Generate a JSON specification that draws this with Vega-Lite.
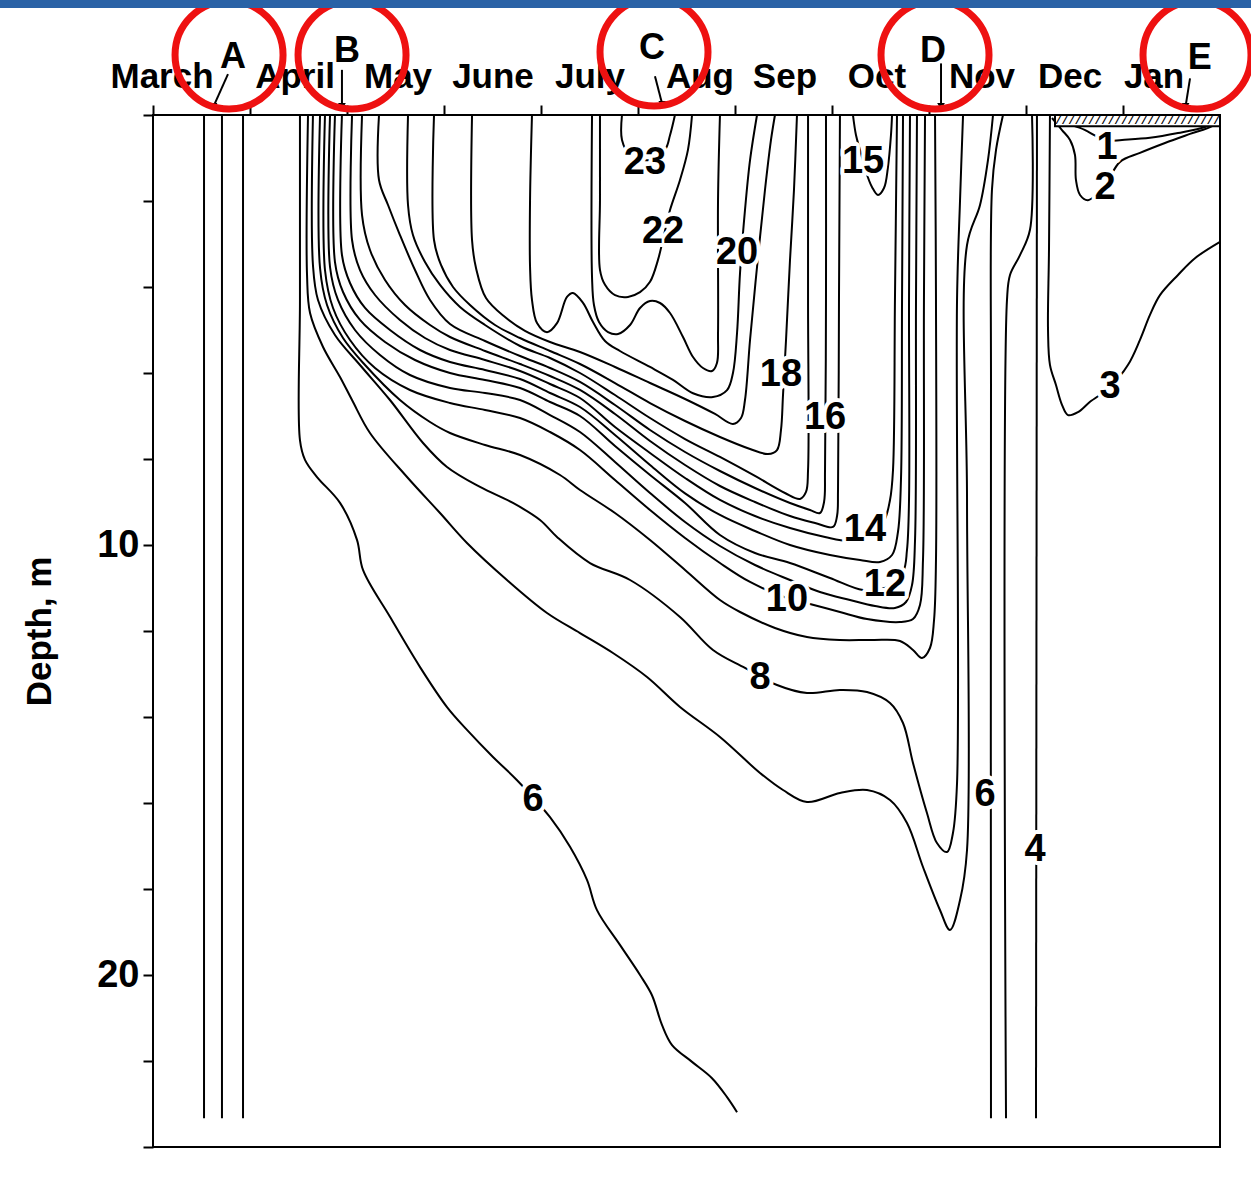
{
  "$schema": "https://vega.github.io/schema/vega-lite/v6.json",
  "width": 1067,
  "height": 1032,
  "autosize": {"type": "none"},
  "padding": {"left": 153, "top": 115, "right": 31, "bottom": 37},
  "background": "white",
  "config": {
    "view": {"stroke": "#000", "strokeWidth": 2},
    "font": "Liberation Sans"
  },
  "datasets": {
    "iso": [
      {"c":"3a","i":0,"m":0.526,"d":0},{"c":"3a","i":1,"m":0.526,"d":23.33},
      {"c":"4a","i":0,"m":0.711,"d":0},{"c":"4a","i":1,"m":0.711,"d":23.33},
      {"c":"5a","i":0,"m":0.928,"d":0},{"c":"5a","i":1,"m":0.928,"d":23.33},

      {"c":"6a","i":0,"m":1.515,"d":0},{"c":"6a","i":1,"m":1.515,"d":4.30},{"c":"6a","i":2,"m":1.515,"d":7.56},{"c":"6a","i":3,"m":1.567,"d":8.02},{"c":"6a","i":4,"m":1.691,"d":8.42},{"c":"6a","i":5,"m":1.928,"d":9.02},{"c":"6a","i":6,"m":2.103,"d":9.88},{"c":"6a","i":7,"m":2.165,"d":10.58},{"c":"6a","i":8,"m":2.443,"d":11.67},{"c":"6a","i":9,"m":2.753,"d":12.84},{"c":"6a","i":10,"m":3.031,"d":13.77},{"c":"6a","i":11,"m":3.237,"d":14.30},{"c":"6a","i":12,"m":3.505,"d":14.93},{"c":"6a","i":13,"m":3.753,"d":15.47},{"c":"6a","i":14,"m":4.093,"d":16.33},{"c":"6a","i":15,"m":4.299,"d":17.02},{"c":"6a","i":16,"m":4.474,"d":17.79},{"c":"6a","i":17,"m":4.577,"d":18.49},{"c":"6a","i":18,"m":4.814,"d":19.30},{"c":"6a","i":19,"m":5.021,"d":20.00},{"c":"6a","i":20,"m":5.144,"d":20.47},{"c":"6a","i":21,"m":5.247,"d":21.16},{"c":"6a","i":22,"m":5.351,"d":21.63},{"c":"6a","i":23,"m":5.557,"d":22.02},{"c":"6a","i":24,"m":5.763,"d":22.40},{"c":"6a","i":25,"m":5.918,"d":22.84},{"c":"6a","i":26,"m":6.021,"d":23.19},

      {"c":"7","i":0,"m":1.598,"d":0},{"c":"7","i":1,"m":1.588,"d":3.721},{"c":"7","i":2,"m":1.619,"d":4.605},{"c":"7","i":3,"m":1.753,"d":5.395},{"c":"7","i":4,"m":1.928,"d":6.093},{"c":"7","i":5,"m":2.052,"d":6.628},{"c":"7","i":6,"m":2.237,"d":7.395},{"c":"7","i":7,"m":2.619,"d":8.419},{"c":"7","i":8,"m":2.959,"d":9.256},{"c":"7","i":9,"m":3.237,"d":9.953},{"c":"7","i":10,"m":3.649,"d":10.814},{"c":"7","i":11,"m":4.062,"d":11.581},{"c":"7","i":12,"m":4.402,"d":12.047},{"c":"7","i":13,"m":4.742,"d":12.512},{"c":"7","i":14,"m":5.093,"d":13.070},{"c":"7","i":15,"m":5.433,"d":13.767},{"c":"7","i":16,"m":5.845,"d":14.465},{"c":"7","i":17,"m":6.258,"d":15.302},{"c":"7","i":18,"m":6.495,"d":15.698},{"c":"7","i":19,"m":6.742,"d":15.977},{"c":"7","i":20,"m":7.082,"d":15.767},{"c":"7","i":21,"m":7.361,"d":15.698},{"c":"7","i":22,"m":7.598,"d":15.930},{"c":"7","i":23,"m":7.773,"d":16.465},{"c":"7","i":24,"m":7.938,"d":17.488},{"c":"7","i":25,"m":8.113,"d":18.488},{"c":"7","i":26,"m":8.216,"d":18.953},{"c":"7","i":27,"m":8.320,"d":18.256},{"c":"7","i":28,"m":8.392,"d":17.093},{"c":"7","i":29,"m":8.392,"d":8.953},{"c":"7","i":30,"m":8.392,"d":3.023},{"c":"7","i":31,"m":8.526,"d":2.093},{"c":"7","i":32,"m":8.608,"d":1.047},{"c":"7","i":33,"m":8.660,"d":0},

      {"c":"8","i":0,"m":1.649,"d":0},{"c":"8","i":1,"m":1.649,"d":3.488},{"c":"8","i":2,"m":1.701,"d":4.302},{"c":"8","i":3,"m":1.876,"d":5.116},{"c":"8","i":4,"m":2.134,"d":5.814},{"c":"8","i":5,"m":2.443,"d":6.628},{"c":"8","i":6,"m":2.784,"d":7.628},{"c":"8","i":7,"m":3.031,"d":8.186},{"c":"8","i":8,"m":3.371,"d":8.651},{"c":"8","i":9,"m":3.711,"d":9.023},{"c":"8","i":10,"m":3.990,"d":9.419},{"c":"8","i":11,"m":4.165,"d":9.814},{"c":"8","i":12,"m":4.505,"d":10.419},{"c":"8","i":13,"m":4.918,"d":10.814},{"c":"8","i":14,"m":5.433,"d":11.674},{"c":"8","i":15,"m":5.773,"d":12.442},{"c":"8","i":16,"m":6.103,"d":12.860},{"c":"8","i":17,"m":6.433,"d":13.256},{"c":"8","i":18,"m":6.742,"d":13.442},{"c":"8","i":19,"m":7.082,"d":13.372},{"c":"8","i":20,"m":7.361,"d":13.419},{"c":"8","i":21,"m":7.598,"d":13.674},{"c":"8","i":22,"m":7.732,"d":14.140},{"c":"8","i":23,"m":7.835,"d":15.070},{"c":"8","i":24,"m":7.979,"d":16.233},{"c":"8","i":25,"m":8.082,"d":16.930},{"c":"8","i":26,"m":8.186,"d":17.140},{"c":"8","i":27,"m":8.247,"d":16.698},{"c":"8","i":28,"m":8.289,"d":15.535},{"c":"8","i":29,"m":8.289,"d":4.302},{"c":"8","i":30,"m":8.320,"d":1.977},{"c":"8","i":31,"m":8.351,"d":0},

      {"c":"9","i":0,"m":1.722,"d":0},{"c":"9","i":1,"m":1.722,"d":3.558},{"c":"9","i":2,"m":1.794,"d":4.419},{"c":"9","i":3,"m":1.959,"d":5.186},{"c":"9","i":4,"m":2.186,"d":5.814},{"c":"9","i":5,"m":2.546,"d":6.628},{"c":"9","i":6,"m":2.856,"d":7.140},{"c":"9","i":7,"m":3.062,"d":7.395},{"c":"9","i":8,"m":3.423,"d":7.674},{"c":"9","i":9,"m":3.784,"d":7.907},{"c":"9","i":10,"m":4.196,"d":8.372},{"c":"9","i":11,"m":4.402,"d":8.721},{"c":"9","i":12,"m":4.763,"d":9.256},{"c":"9","i":13,"m":5.124,"d":9.884},{"c":"9","i":14,"m":5.485,"d":10.581},{"c":"9","i":15,"m":5.845,"d":11.279},{"c":"9","i":16,"m":6.052,"d":11.558},{"c":"9","i":17,"m":6.412,"d":11.930},{"c":"9","i":18,"m":6.742,"d":12.140},{"c":"9","i":19,"m":7.082,"d":12.209},{"c":"9","i":20,"m":7.423,"d":12.209},{"c":"9","i":21,"m":7.701,"d":12.233},{"c":"9","i":22,"m":7.835,"d":12.442},{"c":"9","i":23,"m":7.928,"d":12.628},{"c":"9","i":24,"m":8.010,"d":12.395},{"c":"9","i":25,"m":8.052,"d":11.744},{"c":"9","i":26,"m":8.072,"d":10.349},{"c":"9","i":27,"m":8.072,"d":4.302},{"c":"9","i":28,"m":8.062,"d":0},

      {"c":"10","i":0,"m":1.773,"d":0},{"c":"10","i":1,"m":1.773,"d":3.605},{"c":"10","i":2,"m":1.856,"d":4.488},{"c":"10","i":3,"m":2.031,"d":5.233},{"c":"10","i":4,"m":2.289,"d":5.884},{"c":"10","i":5,"m":2.649,"d":6.395},{"c":"10","i":6,"m":3.062,"d":6.698},{"c":"10","i":7,"m":3.423,"d":6.860},{"c":"10","i":8,"m":3.784,"d":7.047},{"c":"10","i":9,"m":4.093,"d":7.372},{"c":"10","i":10,"m":4.402,"d":7.791},{"c":"10","i":11,"m":4.763,"d":8.488},{"c":"10","i":12,"m":5.124,"d":9.186},{"c":"10","i":13,"m":5.485,"d":9.837},{"c":"10","i":14,"m":5.845,"d":10.419},{"c":"10","i":15,"m":6.155,"d":10.860},{"c":"10","i":16,"m":6.536,"d":11.233},{"c":"10","i":17,"m":6.773,"d":11.372},{"c":"10","i":18,"m":7.082,"d":11.558},{"c":"10","i":19,"m":7.361,"d":11.721},{"c":"10","i":20,"m":7.701,"d":11.791},{"c":"10","i":21,"m":7.835,"d":11.721},{"c":"10","i":22,"m":7.907,"d":11.395},{"c":"10","i":23,"m":7.938,"d":10.349},{"c":"10","i":24,"m":7.948,"d":4.302},{"c":"10","i":25,"m":7.959,"d":0},

      {"c":"11","i":0,"m":1.825,"d":0},{"c":"11","i":1,"m":1.825,"d":3.535},{"c":"11","i":2,"m":1.907,"d":4.302},{"c":"11","i":3,"m":2.082,"d":5.0},{"c":"11","i":4,"m":2.340,"d":5.581},{"c":"11","i":5,"m":2.649,"d":6.047},{"c":"11","i":6,"m":3.062,"d":6.349},{"c":"11","i":7,"m":3.423,"d":6.465},{"c":"11","i":8,"m":3.784,"d":6.628},{"c":"11","i":9,"m":4.093,"d":6.977},{"c":"11","i":10,"m":4.402,"d":7.372},{"c":"11","i":11,"m":4.763,"d":8.070},{"c":"11","i":12,"m":5.124,"d":8.791},{"c":"11","i":13,"m":5.485,"d":9.465},{"c":"11","i":14,"m":5.845,"d":10.023},{"c":"11","i":15,"m":6.206,"d":10.465},{"c":"11","i":16,"m":6.567,"d":10.814},{"c":"11","i":17,"m":6.876,"d":11.093},{"c":"11","i":18,"m":7.186,"d":11.279},{"c":"11","i":19,"m":7.443,"d":11.419},{"c":"11","i":20,"m":7.649,"d":11.465},{"c":"11","i":21,"m":7.763,"d":11.326},{"c":"11","i":22,"m":7.825,"d":10.930},{"c":"11","i":23,"m":7.856,"d":9.884},{"c":"11","i":24,"m":7.866,"d":4.302},{"c":"11","i":25,"m":7.876,"d":0},

      {"c":"12","i":0,"m":1.876,"d":0},{"c":"12","i":1,"m":1.876,"d":3.419},{"c":"12","i":2,"m":1.959,"d":4.116},{"c":"12","i":3,"m":2.134,"d":4.767},{"c":"12","i":4,"m":2.392,"d":5.279},{"c":"12","i":5,"m":2.701,"d":5.698},{"c":"12","i":6,"m":3.062,"d":6.0},{"c":"12","i":7,"m":3.423,"d":6.163},{"c":"12","i":8,"m":3.784,"d":6.349},{"c":"12","i":9,"m":4.093,"d":6.674},{"c":"12","i":10,"m":4.402,"d":7.0},{"c":"12","i":11,"m":4.763,"d":7.698},{"c":"12","i":12,"m":5.124,"d":8.372},{"c":"12","i":13,"m":5.485,"d":9.023},{"c":"12","i":14,"m":5.845,"d":9.767},{"c":"12","i":15,"m":6.206,"d":10.186},{"c":"12","i":16,"m":6.567,"d":10.419},{"c":"12","i":17,"m":6.979,"d":10.767},{"c":"12","i":18,"m":7.320,"d":11.047},{"c":"12","i":19,"m":7.546,"d":11.0},{"c":"12","i":20,"m":7.732,"d":10.628},{"c":"12","i":21,"m":7.773,"d":10.116},{"c":"12","i":22,"m":7.794,"d":8.953},{"c":"12","i":23,"m":7.794,"d":4.302},{"c":"12","i":24,"m":7.804,"d":0},

      {"c":"13","i":0,"m":1.948,"d":0},{"c":"13","i":1,"m":1.948,"d":3.256},{"c":"13","i":2,"m":2.031,"d":3.907},{"c":"13","i":3,"m":2.186,"d":4.488},{"c":"13","i":4,"m":2.443,"d":5.0},{"c":"13","i":5,"m":2.753,"d":5.465},{"c":"13","i":6,"m":3.062,"d":5.744},{"c":"13","i":7,"m":3.423,"d":5.930},{"c":"13","i":8,"m":3.784,"d":6.140},{"c":"13","i":9,"m":4.093,"d":6.465},{"c":"13","i":10,"m":4.402,"d":6.791},{"c":"13","i":11,"m":4.763,"d":7.442},{"c":"13","i":12,"m":5.124,"d":8.140},{"c":"13","i":13,"m":5.485,"d":8.80},{"c":"13","i":14,"m":5.845,"d":9.302},{"c":"13","i":15,"m":6.206,"d":9.674},{"c":"13","i":16,"m":6.567,"d":10.0},{"c":"13","i":17,"m":6.979,"d":10.233},{"c":"13","i":18,"m":7.289,"d":10.349},{"c":"13","i":19,"m":7.495,"d":10.395},{"c":"13","i":20,"m":7.619,"d":10.233},{"c":"13","i":21,"m":7.680,"d":9.698},{"c":"13","i":22,"m":7.711,"d":8.488},{"c":"13","i":23,"m":7.722,"d":4.302},{"c":"13","i":24,"m":7.732,"d":0},

      {"c":"14","i":0,"m":2.052,"d":0},{"c":"14","i":1,"m":2.052,"d":2.907},{"c":"14","i":2,"m":2.134,"d":3.605},{"c":"14","i":3,"m":2.289,"d":4.186},{"c":"14","i":4,"m":2.546,"d":4.767},{"c":"14","i":5,"m":2.804,"d":5.186},{"c":"14","i":6,"m":3.062,"d":5.465},{"c":"14","i":7,"m":3.423,"d":5.698},{"c":"14","i":8,"m":3.784,"d":5.953},{"c":"14","i":9,"m":4.093,"d":6.256},{"c":"14","i":10,"m":4.402,"d":6.581},{"c":"14","i":11,"m":4.763,"d":7.256},{"c":"14","i":12,"m":5.124,"d":7.860},{"c":"14","i":13,"m":5.485,"d":8.442},{"c":"14","i":14,"m":5.845,"d":8.953},{"c":"14","i":15,"m":6.206,"d":9.326},{"c":"14","i":16,"m":6.567,"d":9.605},{"c":"14","i":17,"m":6.928,"d":9.814},{"c":"14","i":18,"m":7.165,"d":9.907},{"c":"14","i":19,"m":7.340,"d":9.837},{"c":"14","i":20,"m":7.526,"d":9.488},{"c":"14","i":21,"m":7.598,"d":8.953},{"c":"14","i":22,"m":7.629,"d":8.256},{"c":"14","i":23,"m":7.649,"d":4.302},{"c":"14","i":24,"m":7.670,"d":0},

      {"c":"15","i":0,"m":2.155,"d":0},{"c":"15","i":1,"m":2.155,"d":2.326},{"c":"15","i":2,"m":2.237,"d":3.140},{"c":"15","i":3,"m":2.392,"d":3.837},{"c":"15","i":4,"m":2.598,"d":4.419},{"c":"15","i":5,"m":2.856,"d":4.884},{"c":"15","i":6,"m":3.062,"d":5.163},{"c":"15","i":7,"m":3.423,"d":5.488},{"c":"15","i":8,"m":3.784,"d":5.791},{"c":"15","i":9,"m":4.093,"d":6.070},{"c":"15","i":10,"m":4.402,"d":6.395},{"c":"15","i":11,"m":4.763,"d":6.953},{"c":"15","i":12,"m":5.124,"d":7.581},{"c":"15","i":13,"m":5.485,"d":8.140},{"c":"15","i":14,"m":5.845,"d":8.628},{"c":"15","i":15,"m":6.206,"d":9.0},{"c":"15","i":16,"m":6.567,"d":9.326},{"c":"15","i":17,"m":6.825,"d":9.488},{"c":"15","i":18,"m":7.010,"d":9.581},{"c":"15","i":19,"m":7.052,"d":9.326},{"c":"15","i":20,"m":7.062,"d":8.721},{"c":"15","i":21,"m":7.072,"d":4.302},{"c":"15","i":22,"m":7.082,"d":0},

      {"c":"15p","i":0,"m":7.216,"d":0},{"c":"15p","i":1,"m":7.247,"d":0.465},{"c":"15p","i":2,"m":7.289,"d":0.814},{"c":"15p","i":3,"m":7.351,"d":1.326},{"c":"15p","i":4,"m":7.412,"d":1.674},{"c":"15p","i":5,"m":7.474,"d":1.860},{"c":"15p","i":6,"m":7.536,"d":1.698},{"c":"15p","i":7,"m":7.577,"d":1.209},{"c":"15p","i":8,"m":7.608,"d":0.465},{"c":"15p","i":9,"m":7.619,"d":0},

      {"c":"16","i":0,"m":2.330,"d":0},{"c":"16","i":1,"m":2.330,"d":1.512},{"c":"16","i":2,"m":2.423,"d":2.093},{"c":"16","i":3,"m":2.546,"d":2.791},{"c":"16","i":4,"m":2.701,"d":3.605},{"c":"16","i":5,"m":2.856,"d":4.302},{"c":"16","i":6,"m":3.062,"d":4.860},{"c":"16","i":7,"m":3.423,"d":5.256},{"c":"16","i":8,"m":3.784,"d":5.605},{"c":"16","i":9,"m":4.093,"d":5.884},{"c":"16","i":10,"m":4.402,"d":6.209},{"c":"16","i":11,"m":4.763,"d":6.744},{"c":"16","i":12,"m":5.124,"d":7.326},{"c":"16","i":13,"m":5.485,"d":7.837},{"c":"16","i":14,"m":5.845,"d":8.279},{"c":"16","i":15,"m":6.206,"d":8.674},{"c":"16","i":16,"m":6.567,"d":9.023},{"c":"16","i":17,"m":6.773,"d":9.186},{"c":"16","i":18,"m":6.876,"d":9.256},{"c":"16","i":19,"m":6.918,"d":9.0},{"c":"16","i":20,"m":6.928,"d":8.256},{"c":"16","i":21,"m":6.938,"d":4.302},{"c":"16","i":22,"m":6.938,"d":0},

      {"c":"17","i":0,"m":2.629,"d":0},{"c":"17","i":1,"m":2.629,"d":2.093},{"c":"17","i":2,"m":2.680,"d":2.791},{"c":"17","i":3,"m":2.804,"d":3.419},{"c":"17","i":4,"m":2.959,"d":3.953},{"c":"17","i":5,"m":3.165,"d":4.465},{"c":"17","i":6,"m":3.423,"d":4.884},{"c":"17","i":7,"m":3.784,"d":5.372},{"c":"17","i":8,"m":4.093,"d":5.651},{"c":"17","i":9,"m":4.402,"d":6.0},{"c":"17","i":10,"m":4.763,"d":6.512},{"c":"17","i":11,"m":5.124,"d":7.047},{"c":"17","i":12,"m":5.485,"d":7.535},{"c":"17","i":13,"m":5.845,"d":7.953},{"c":"17","i":14,"m":6.206,"d":8.395},{"c":"17","i":15,"m":6.515,"d":8.791},{"c":"17","i":16,"m":6.670,"d":8.930},{"c":"17","i":17,"m":6.732,"d":8.767},{"c":"17","i":18,"m":6.753,"d":8.256},{"c":"17","i":19,"m":6.753,"d":4.302},{"c":"17","i":20,"m":6.753,"d":0},

      {"c":"18","i":0,"m":2.897,"d":0},{"c":"18","i":1,"m":2.897,"d":2.907},{"c":"18","i":2,"m":2.969,"d":3.488},{"c":"18","i":3,"m":3.093,"d":4.0},{"c":"18","i":4,"m":3.268,"d":4.419},{"c":"18","i":5,"m":3.526,"d":4.884},{"c":"18","i":6,"m":3.784,"d":5.186},{"c":"18","i":7,"m":4.093,"d":5.488},{"c":"18","i":8,"m":4.402,"d":5.791},{"c":"18","i":9,"m":4.763,"d":6.233},{"c":"18","i":10,"m":5.124,"d":6.698},{"c":"18","i":11,"m":5.485,"d":7.116},{"c":"18","i":12,"m":5.845,"d":7.488},{"c":"18","i":13,"m":6.155,"d":7.767},{"c":"18","i":14,"m":6.340,"d":7.884},{"c":"18","i":15,"m":6.433,"d":7.791},{"c":"18","i":16,"m":6.474,"d":7.326},{"c":"18","i":17,"m":6.495,"d":6.512},{"c":"18","i":18,"m":6.526,"d":5.233},{"c":"18","i":19,"m":6.567,"d":3.372},{"c":"18","i":20,"m":6.608,"d":1.744},{"c":"18","i":21,"m":6.639,"d":0},

      {"c":"19","i":0,"m":3.289,"d":0},{"c":"19","i":1,"m":3.289,"d":2.907},{"c":"19","i":2,"m":3.330,"d":3.558},{"c":"19","i":3,"m":3.433,"d":4.256},{"c":"19","i":4,"m":3.629,"d":4.70},{"c":"19","i":5,"m":3.835,"d":5.02},{"c":"19","i":6,"m":4.093,"d":5.279},{"c":"19","i":7,"m":4.402,"d":5.512},{"c":"19","i":8,"m":4.763,"d":5.860},{"c":"19","i":9,"m":5.124,"d":6.233},{"c":"19","i":10,"m":5.485,"d":6.605},{"c":"19","i":11,"m":5.794,"d":6.953},{"c":"19","i":12,"m":5.979,"d":7.186},{"c":"19","i":13,"m":6.062,"d":7.047},{"c":"19","i":14,"m":6.103,"d":6.628},{"c":"19","i":15,"m":6.155,"d":5.233},{"c":"19","i":16,"m":6.227,"d":3.535},{"c":"19","i":17,"m":6.309,"d":1.744},{"c":"19","i":18,"m":6.371,"d":0.581},{"c":"19","i":19,"m":6.412,"d":0},

      {"c":"20","i":0,"m":3.907,"d":0},{"c":"20","i":1,"m":3.887,"d":1.98},{"c":"20","i":2,"m":3.887,"d":3.53},{"c":"20","i":3,"m":3.907,"d":4.30},{"c":"20","i":4,"m":3.959,"d":4.84},{"c":"20","i":5,"m":4.062,"d":5.05},{"c":"20","i":6,"m":4.165,"d":4.84},{"c":"20","i":7,"m":4.268,"d":4.23},{"c":"20","i":8,"m":4.330,"d":4.14},{"c":"20","i":9,"m":4.433,"d":4.37},{"c":"20","i":10,"m":4.536,"d":4.814},{"c":"20","i":11,"m":4.660,"d":5.256},{"c":"20","i":12,"m":4.814,"d":5.488},{"c":"20","i":13,"m":5.124,"d":5.86},{"c":"20","i":14,"m":5.361,"d":6.16},{"c":"20","i":15,"m":5.567,"d":6.47},{"c":"20","i":16,"m":5.773,"d":6.56},{"c":"20","i":17,"m":5.918,"d":6.40},{"c":"20","i":18,"m":5.979,"d":6.00},{"c":"20","i":19,"m":6.021,"d":5.07},{"c":"20","i":20,"m":6.052,"d":3.67},{"c":"20","i":21,"m":6.103,"d":2.21},{"c":"20","i":22,"m":6.155,"d":1.05},{"c":"20","i":23,"m":6.227,"d":0},

      {"c":"21","i":0,"m":4.526,"d":0},{"c":"21","i":1,"m":4.526,"d":3.767},{"c":"21","i":2,"m":4.546,"d":4.419},{"c":"21","i":3,"m":4.598,"d":4.814},{"c":"21","i":4,"m":4.691,"d":5.047},{"c":"21","i":5,"m":4.794,"d":5.093},{"c":"21","i":6,"m":4.918,"d":4.884},{"c":"21","i":7,"m":5.021,"d":4.488},{"c":"21","i":8,"m":5.124,"d":4.326},{"c":"21","i":9,"m":5.227,"d":4.372},{"c":"21","i":10,"m":5.330,"d":4.605},{"c":"21","i":11,"m":5.464,"d":5.163},{"c":"21","i":12,"m":5.567,"d":5.628},{"c":"21","i":13,"m":5.670,"d":5.884},{"c":"21","i":14,"m":5.763,"d":5.953},{"c":"21","i":15,"m":5.814,"d":5.767},{"c":"21","i":16,"m":5.825,"d":5.070},{"c":"21","i":17,"m":5.825,"d":1.977},{"c":"21","i":18,"m":5.845,"d":0},

      {"c":"22","i":0,"m":4.608,"d":0},{"c":"22","i":1,"m":4.608,"d":1.98},{"c":"22","i":2,"m":4.608,"d":3.60},{"c":"22","i":3,"m":4.660,"d":3.95},{"c":"22","i":4,"m":4.763,"d":4.19},{"c":"22","i":5,"m":4.897,"d":4.23},{"c":"22","i":6,"m":5.021,"d":4.12},{"c":"22","i":7,"m":5.124,"d":3.88},{"c":"22","i":8,"m":5.206,"d":3.37},{"c":"22","i":9,"m":5.268,"d":2.79},{"c":"22","i":10,"m":5.330,"d":2.21},{"c":"22","i":11,"m":5.433,"d":1.51},{"c":"22","i":12,"m":5.515,"d":0.81},{"c":"22","i":13,"m":5.557,"d":0},

      {"c":"23","i":0,"m":4.835,"d":0},{"c":"23","i":1,"m":4.835,"d":0.58},{"c":"23","i":2,"m":4.918,"d":0.93},{"c":"23","i":3,"m":5.103,"d":1.05},{"c":"23","i":4,"m":5.278,"d":0.81},{"c":"23","i":5,"m":5.330,"d":0.47},{"c":"23","i":6,"m":5.381,"d":0},

      {"c":"6b","i":0,"m":8.763,"d":0},{"c":"6b","i":1,"m":8.691,"d":0.81},{"c":"6b","i":2,"m":8.649,"d":1.74},{"c":"6b","i":3,"m":8.639,"d":6.63},{"c":"6b","i":4,"m":8.639,"d":23.33},

      {"c":"5b","i":0,"m":9.062,"d":0},{"c":"5b","i":1,"m":9.041,"d":2.67},{"c":"5b","i":2,"m":8.938,"d":3.26},{"c":"5b","i":3,"m":8.835,"d":3.72},{"c":"5b","i":4,"m":8.804,"d":4.30},{"c":"5b","i":5,"m":8.794,"d":23.33},

      {"c":"4b","i":0,"m":9.113,"d":0},{"c":"4b","i":1,"m":9.103,"d":23.33},

      {"c":"3b","i":0,"m":9.247,"d":0},{"c":"3b","i":1,"m":9.237,"d":3.14},{"c":"3b","i":2,"m":9.227,"d":5.0},{"c":"3b","i":3,"m":9.247,"d":5.81},{"c":"3b","i":4,"m":9.309,"d":6.28},{"c":"3b","i":5,"m":9.371,"d":6.74},{"c":"3b","i":6,"m":9.433,"d":6.98},{"c":"3b","i":7,"m":9.536,"d":6.91},{"c":"3b","i":8,"m":9.660,"d":6.67},{"c":"3b","i":9,"m":9.866,"d":6.33},{"c":"3b","i":10,"m":10.052,"d":5.81},{"c":"3b","i":11,"m":10.175,"d":5.23},{"c":"3b","i":12,"m":10.278,"d":4.65},{"c":"3b","i":13,"m":10.381,"d":4.19},{"c":"3b","i":14,"m":10.567,"d":3.72},{"c":"3b","i":15,"m":10.742,"d":3.33},{"c":"3b","i":16,"m":11.0,"d":2.95},

      {"c":"2","i":0,"m":9.268,"d":0.07},{"c":"2","i":1,"m":9.371,"d":0.35},{"c":"2","i":2,"m":9.454,"d":0.58},{"c":"2","i":3,"m":9.505,"d":0.93},{"c":"2","i":4,"m":9.515,"d":1.51},{"c":"2","i":5,"m":9.557,"d":1.86},{"c":"2","i":6,"m":9.639,"d":1.98},{"c":"2","i":7,"m":9.814,"d":1.63},{"c":"2","i":8,"m":9.969,"d":1.09},{"c":"2","i":9,"m":10.175,"d":0.88},{"c":"2","i":10,"m":10.433,"d":0.65},{"c":"2","i":11,"m":10.691,"d":0.44},{"c":"2","i":12,"m":10.918,"d":0.26},{"c":"2","i":13,"m":10.979,"d":0.12},

      {"c":"1","i":0,"m":9.33,"d":0.16},{"c":"1","i":1,"m":9.557,"d":0.30},{"c":"1","i":2,"m":9.742,"d":0.51},{"c":"1","i":3,"m":9.845,"d":0.60},{"c":"1","i":4,"m":9.99,"d":0.58},{"c":"1","i":5,"m":10.278,"d":0.53},{"c":"1","i":6,"m":10.567,"d":0.42},{"c":"1","i":7,"m":10.845,"d":0.28},{"c":"1","i":8,"m":10.948,"d":0.16}
    ],
    "isoLabels": [
      {"t":"23","m":5.072,"d":1.116},
      {"t":"22","m":5.258,"d":2.721},
      {"t":"20","m":6.021,"d":3.209},
      {"t":"18","m":6.474,"d":6.047},
      {"t":"16","m":6.928,"d":7.047},
      {"t":"15","m":7.320,"d":1.093},
      {"t":"14","m":7.340,"d":9.651},
      {"t":"12","m":7.546,"d":10.930},
      {"t":"10","m":6.536,"d":11.279},
      {"t":"8","m":6.258,"d":13.093},
      {"t":"6","m":3.918,"d":15.930},
      {"t":"6","m":8.577,"d":15.814},
      {"t":"4","m":9.093,"d":17.093},
      {"t":"3","m":9.866,"d":6.326},
      {"t":"2","m":9.814,"d":1.70},
      {"t":"1","m":9.835,"d":0.76}
    ],
    "months": [
      {"t":"March","m":0.093},{"t":"April","m":1.464},{"t":"May","m":2.526},{"t":"June","m":3.505},
      {"t":"July","m":4.505},{"t":"Aug","m":5.639},{"t":"Sep","m":6.515},{"t":"Oct","m":7.464},
      {"t":"Nov","m":8.546},{"t":"Dec","m":9.454},{"t":"Jan","m":10.320}
    ],
    "events": [
      {"t":"A","m":0.825,"d":-1.1,"cm":0.784,"cd":-1.395,"am":0.773,"ad":-0.95,"am2":0.624,"ad2":-0.2},
      {"t":"B","m":2.0,"d":-1.23,"cm":2.052,"cd":-1.395,"am":1.948,"ad":-1.05,"am2":1.948,"ad2":-0.2},
      {"t":"C","m":5.144,"d":-1.3,"cm":5.165,"cd":-1.465,"am":5.175,"ad":-0.9,"am2":5.25,"ad2":-0.25},
      {"t":"D","m":8.041,"d":-1.23,"cm":8.062,"cd":-1.395,"am":8.124,"ad":-1.2,"am2":8.124,"ad2":-0.2},
      {"t":"E","m":10.79,"d":-1.07,"cm":10.763,"cd":-1.395,"am":10.691,"ad":-0.85,"am2":10.645,"ad2":-0.2}
    ],
    "ice": [{"m":9.299,"m2":11.0,"d":0,"d2":0.26,"t":"/////////////////////////","mc":10.149,"dc":0.13}],
    "band": [{"m":-1.7,"m2":11.5,"d":-2.8,"d2":-2.49}]
  },
  "layer": [
    {
      "data": {"name": "iso"},
      "mark": {"type": "line", "color": "#000", "strokeWidth": 2, "interpolate": "catmull-rom"},
      "encoding": {
        "x": {
          "field": "m", "type": "quantitative",
          "scale": {"domain": [0, 11], "nice": false, "zero": false},
          "axis": {"orient": "top", "values": [0,1,2,3,4,5,6,7,8,9,10], "labels": false, "domain": false, "grid": false,
                   "ticks": true, "tickSize": 10, "tickWidth": 2, "tickColor": "#000", "title": null}
        },
        "y": {
          "field": "d", "type": "quantitative",
          "scale": {"domain": [0, 24], "reverse": true, "nice": false, "zero": false},
          "axis": {"orient": "left", "values": [0,2,4,6,8,10,12,14,16,18,20,22,24],
                   "labelExpr": "datum.value == 10 || datum.value == 20 ? datum.label : ''",
                   "domain": false, "grid": false, "tickSize": 10, "tickWidth": 2, "tickColor": "#000",
                   "labelFontSize": 38, "labelFontWeight": "bold", "labelColor": "#000", "labelPadding": 4,
                   "title": "Depth, m", "titleFontSize": 35, "titleFontWeight": "bold", "titleColor": "#000",
                   "titleX": -96, "titleY": 516}
        },
        "detail": {"field": "c"},
        "order": {"field": "i", "type": "quantitative"}
      }
    },
    {
      "data": {"name": "isoLabels"},
      "mark": {"type": "text", "fontSize": 38, "fontWeight": "bold", "color": "white", "stroke": "white", "strokeWidth": 8, "strokeJoin": "round", "baseline": "middle", "align": "center"},
      "encoding": {
        "x": {"field": "m", "type": "quantitative"},
        "y": {"field": "d", "type": "quantitative"},
        "text": {"field": "t"}
      }
    },
    {
      "data": {"name": "isoLabels"},
      "mark": {"type": "text", "fontSize": 38, "fontWeight": "bold", "color": "#000", "baseline": "middle", "align": "center"},
      "encoding": {
        "x": {"field": "m", "type": "quantitative"},
        "y": {"field": "d", "type": "quantitative"},
        "text": {"field": "t"}
      }
    },
    {
      "data": {"name": "ice"},
      "mark": {"type": "rect", "fill": "white", "stroke": "#000", "strokeWidth": 2},
      "encoding": {
        "x": {"field": "m", "type": "quantitative"},
        "x2": {"field": "m2"},
        "y": {"field": "d", "type": "quantitative"},
        "y2": {"field": "d2"}
      }
    },
    {
      "data": {"name": "ice"},
      "mark": {"type": "text", "font": "Liberation Mono", "fontSize": 11, "fontWeight": "bold", "color": "#000", "baseline": "middle", "align": "center"},
      "encoding": {
        "x": {"field": "mc", "type": "quantitative"},
        "y": {"field": "dc", "type": "quantitative"},
        "text": {"field": "t"}
      }
    },
    {
      "data": {"name": "months"},
      "mark": {"type": "text", "fontSize": 35, "fontWeight": "bold", "color": "#000", "baseline": "alphabetic", "align": "center"},
      "encoding": {
        "x": {"field": "m", "type": "quantitative"},
        "y": {"datum": -0.62, "type": "quantitative"},
        "text": {"field": "t"}
      }
    },
    {
      "data": {"name": "events"},
      "mark": {"type": "rule", "color": "#000", "strokeWidth": 2},
      "encoding": {
        "x": {"field": "am", "type": "quantitative"},
        "y": {"field": "ad", "type": "quantitative"},
        "x2": {"field": "am2"},
        "y2": {"field": "ad2"}
      }
    },
    {
      "data": {"name": "events"},
      "mark": {"type": "point", "shape": "triangle-down", "filled": true, "color": "#000", "size": 60, "opacity": 1},
      "encoding": {
        "x": {"field": "am2", "type": "quantitative"},
        "y": {"field": "ad2", "type": "quantitative"}
      }
    },
    {
      "data": {"name": "events"},
      "mark": {"type": "text", "fontSize": 36, "fontWeight": "bold", "color": "#000", "baseline": "alphabetic", "align": "center"},
      "encoding": {
        "x": {"field": "m", "type": "quantitative"},
        "y": {"field": "d", "type": "quantitative"},
        "text": {"field": "t"}
      }
    },
    {
      "data": {"name": "events"},
      "mark": {"type": "point", "shape": "circle", "filled": false, "stroke": "#ee1111", "strokeWidth": 7, "size": 11664, "opacity": 1},
      "encoding": {
        "x": {"field": "cm", "type": "quantitative"},
        "y": {"field": "cd", "type": "quantitative"}
      }
    },
    {
      "data": {"name": "band"},
      "mark": {"type": "rect", "color": "#2a62a6"},
      "encoding": {
        "x": {"field": "m", "type": "quantitative"},
        "x2": {"field": "m2"},
        "y": {"field": "d", "type": "quantitative"},
        "y2": {"field": "d2"}
      }
    }
  ]
}
